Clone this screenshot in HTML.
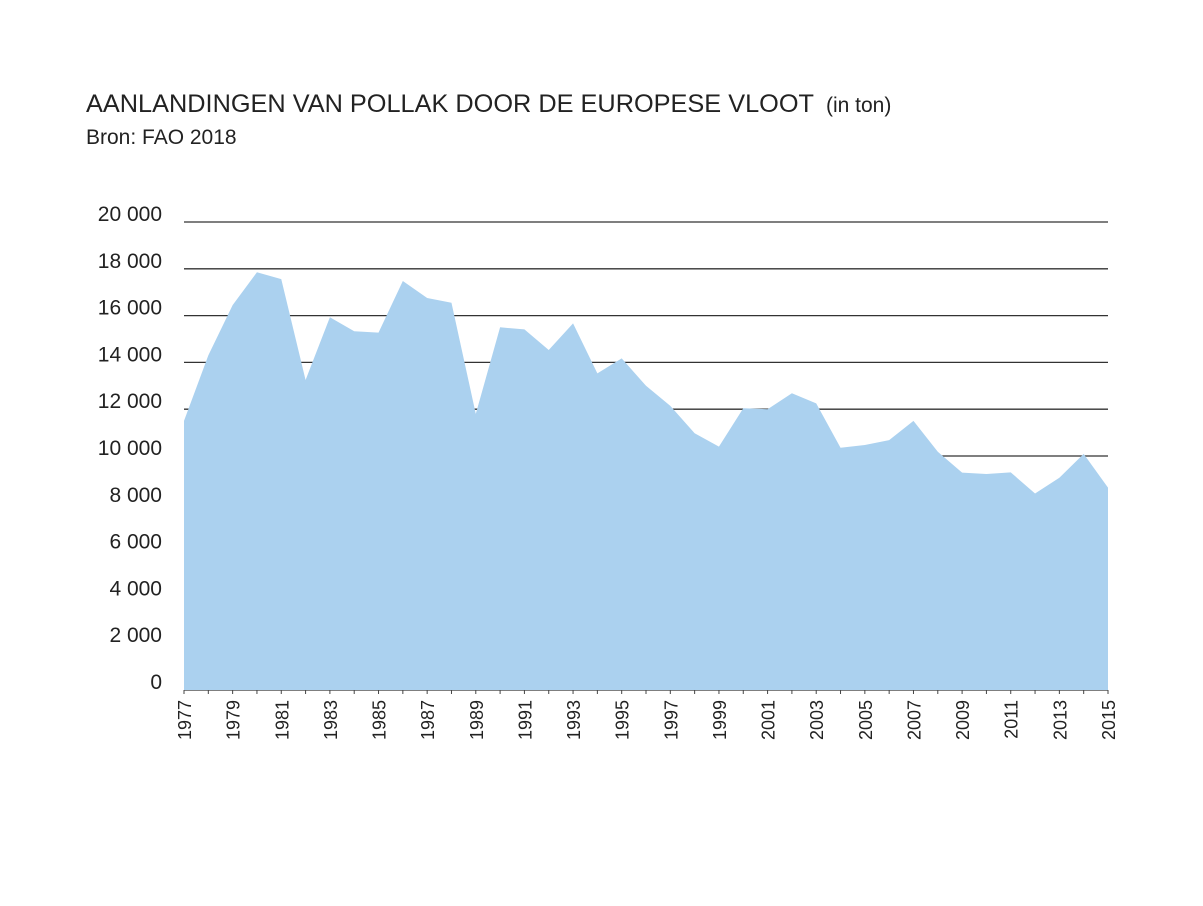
<!DOCTYPE html>
<html><head><meta charset="utf-8"><style>
body{margin:0;background:#fff;}
svg text{font-family:"Liberation Sans",sans-serif;fill:#222;}
</style></head><body>
<svg width="1203" height="901" xmlns="http://www.w3.org/2000/svg">
<text x="86" y="112" font-size="25" textLength="728" lengthAdjust="spacingAndGlyphs">AANLANDINGEN VAN POLLAK DOOR DE EUROPESE VLOOT</text>
<text x="826" y="112" font-size="21">(in ton)</text>
<text x="86" y="144" font-size="21">Bron: FAO 2018</text>
<g id="grid"></g><g id="area"></g><g id="ylab"></g><g id="xlab"></g>
</svg>
<script>
const years=[];for(let y=1977;y<=2015;y++)years.push(y);
const values=[11500,14300,16450,17850,17560,13250,15930,15330,15270,17480,16750,16550,11800,15500,15410,14530,15670,13530,14170,13000,12140,10970,10400,12040,12000,12680,12250,10350,10470,10680,11500,10180,9290,9230,9300,8400,9070,10090,8650];
const yTicks=[0,2000,4000,6000,8000,10000,12000,14000,16000,18000,20000];
const yTickLabels=["0","2 000","4 000","6 000","8 000","10 000","12 000","14 000","16 000","18 000","20 000"];
const xLabelYears=[1977,1979,1981,1983,1985,1987,1989,1991,1993,1995,1997,1999,2001,2003,2005,2007,2009,2011,2013,2015];
const X0=184,X1=1108,Y0=690,Y1=222;
const xs=y=>X0+(y-1977)*(X1-X0)/(2015-1977);
const ys=v=>Y0-v*(Y0-Y1)/20000;
const NS="http://www.w3.org/2000/svg";
const mk=(t,a,p)=>{const e=document.createElementNS(NS,t);for(const k in a)e.setAttribute(k,a[k]);p.appendChild(e);return e;};
const grid=document.getElementById('grid'),area=document.getElementById('area'),yl=document.getElementById('ylab'),xl=document.getElementById('xlab');
yTicks.forEach((v,i)=>{
 const l=mk('line',{x1:X0,x2:X1,y1:ys(v),y2:ys(v),stroke:'#333','stroke-width':1.3},grid);
 
 
 const t=mk('text',{x:162,y:ys(v)-1,'text-anchor':'end','font-size':21},yl);
 t.textContent=yTickLabels[i];
 
 
});
let d='M'+xs(years[0])+','+ys(0);
years.forEach((y,i)=>{d+=' L'+xs(y)+','+ys(values[i]);});
d+=' L'+xs(years[years.length-1])+','+ys(0)+' Z';
const p=mk('path',{d:d,fill:'#abd1ef'},area);


years.forEach(y=>{
 const tk=mk('line',{x1:xs(y),x2:xs(y),y1:Y0,y2:Y0+4,stroke:'#444','stroke-width':1},xl);
 
 
});
xLabelYears.forEach(y=>{
 const t=mk('text',{x:0,y:0,'text-anchor':'end','font-size':18,transform:`translate(${xs(y)+7},${Y0+10}) rotate(-90)`},xl);
 t.textContent=y;
 
 
});
</script>
</body></html>
